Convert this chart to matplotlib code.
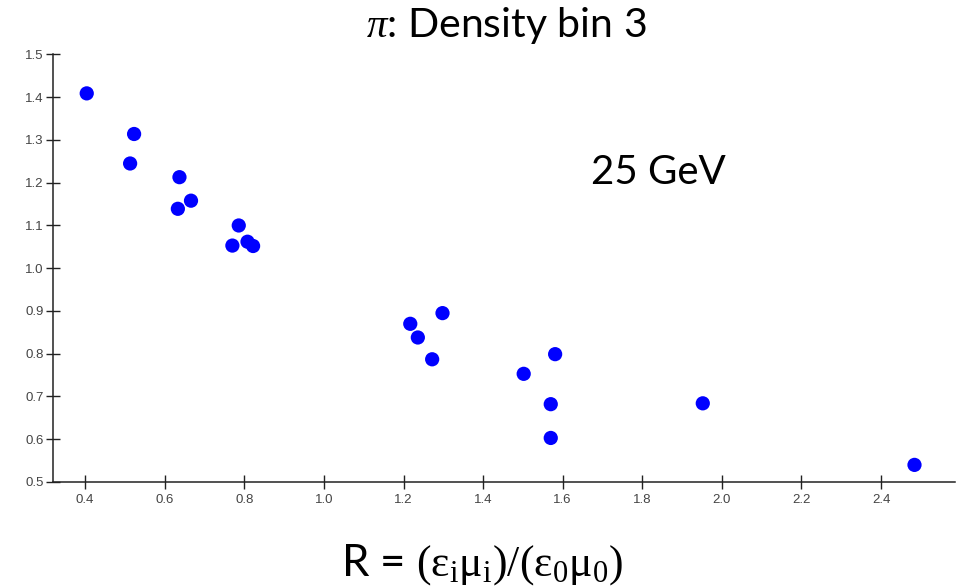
import numpy as np
import matplotlib
matplotlib.use("Agg")
import matplotlib.pyplot as plt

# ratio R vs relative value, density bin 3
r_vals = [0.404, 0.523, 0.513, 0.637, 0.666, 0.633, 0.786, 0.770, 0.808, 0.822,
          1.217, 1.298, 1.236, 1.272, 1.581, 1.502, 1.570, 1.570, 1.952, 2.484]
y_vals = [1.409, 1.314, 1.245, 1.213, 1.158, 1.139, 1.100, 1.053, 1.062, 1.052,
          0.870, 0.895, 0.838, 0.787, 0.799, 0.753, 0.682, 0.603, 0.684, 0.540]
x_ticks = [0.4, 0.6, 0.8, 1.0, 1.2, 1.4, 1.6, 1.8, 2.0, 2.2, 2.4]
y_ticks = [0.5, 0.6, 0.7, 0.8, 0.9, 1.0, 1.1, 1.2, 1.3, 1.4, 1.5]

plt.rcParams["mathtext.fontset"] = "custom"
plt.rcParams["mathtext.rm"] = "Liberation Serif"
plt.rcParams["mathtext.it"] = "Liberation Serif:italic"

fig = plt.figure(figsize=(9.57, 5.87), dpi=100)
ax = fig.add_axes([0.0557, 0.1789, 0.9423, 0.7283])

ax.scatter(r_vals, y_vals, s=105, color="#0000ff", edgecolors="none", zorder=3)

ax.set_xlim(0.32, 2.586)
ax.set_ylim(0.5, 1.5)
ax.set_xticks(x_ticks)
ax.set_yticks(y_ticks)
ax.set_xticklabels([f"{v:.1f}" for v in x_ticks])
ax.set_yticklabels([f"{v:.1f}" for v in y_ticks])

for side in ["top", "right"]:
    ax.spines[side].set_visible(False)
for side in ["left", "bottom"]:
    ax.spines[side].set_linewidth(1.1)
    ax.spines[side].set_color("#222222")

ax.tick_params(direction="inout", length=10, width=1.0, color="#222222",
               labelsize=9.5, labelcolor="#444444")
ax.tick_params(axis="x", pad=4)
ax.tick_params(axis="y", pad=2)
for lbl in ax.get_xticklabels() + ax.get_yticklabels():
    lbl.set_family("Liberation Sans")

fig.text(0.529, 0.937, r"$\pi$: Density bin 3", fontsize=29.5, family="Lato",
         ha="center", va="baseline")
fig.text(0.688, 0.687, "25 GeV", fontsize=29, family="Lato",
         ha="center", va="baseline")

fig.text(0.504, 0.0204,
         r"R = $(\mathrm{\varepsilon_{i}\mu_{i}})/(\mathrm{\varepsilon_{0}\mu_{0}})$",
         fontsize=31.5, family="Lato", ha="center", va="baseline")

fig.savefig("out.png", dpi=100)
